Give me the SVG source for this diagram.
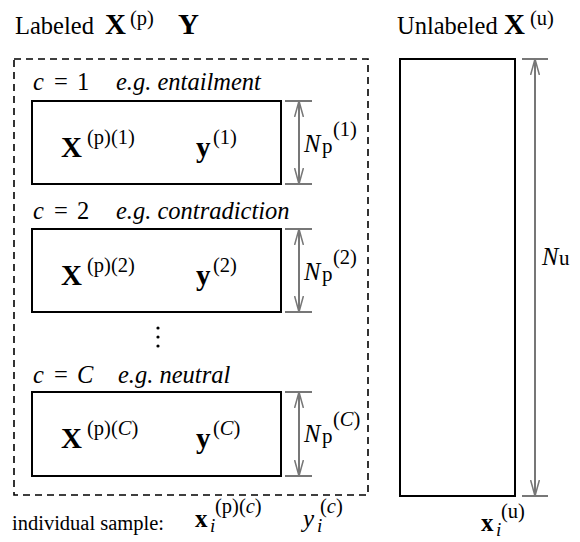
<svg xmlns="http://www.w3.org/2000/svg" width="580" height="542" viewBox="0 0 580 542" font-family="'Liberation Serif', 'Times New Roman', serif">
<defs>
<marker id="arr" viewBox="0 0 17 10" refX="16" refY="5" markerWidth="17" markerHeight="10" markerUnits="userSpaceOnUse" orient="auto-start-reverse">
<path d="M0,0.6 L16,5 L0,9.4" fill="none" stroke="#777" stroke-width="1.5"/>
</marker>
<style>
.t{font-size:24.5px}
.it{font-style:italic}
.b{font-weight:bold}
.mx{font-size:29px;font-weight:bold}
.sup{font-size:20.5px}
.box{fill:#fff;stroke:#000;stroke-width:2}
.dash{fill:none;stroke:#000;stroke-width:1.6;stroke-dasharray:7 5}
.tick{stroke:#777;stroke-width:2;fill:none}
.dim{stroke:#777;stroke-width:2;fill:none;marker-start:url(#arr);marker-end:url(#arr)}
</style>
</defs>
<rect width="580" height="542" fill="#fff"/>

<g id="titles">
<text class="t" x="15" y="34">Labeled</text>
<text class="mx" x="105" y="34">X</text>
<text class="sup" x="130" y="25">(p)</text>
<text class="mx" x="178" y="34">Y</text>
<text class="t" x="397" y="34">Unlabeled</text>
<text class="mx" x="504" y="34">X</text>
<text class="sup" x="530" y="25">(u)</text>
</g>

<g id="labeled-group">
<rect class="dash" x="14" y="59" width="354" height="436"/>
</g>

<g id="class1">
<text class="t it" x="33" y="90">c</text>
<text class="t" x="54" y="90">=</text>
<text class="t" x="77" y="90">1</text>
<text class="t it" x="116" y="90">e.g. entailment</text>
<rect class="box" x="32" y="101" width="249" height="83"/>
<text class="mx" x="61" y="157">X</text>
<text class="sup" x="87" y="144">(p)(1)</text>
<text class="mx" x="196" y="157">y</text>
<text class="sup" x="213" y="144">(1)</text>
</g>

<g id="class2">
<text class="t it" x="33" y="219">c</text>
<text class="t" x="54" y="219">=</text>
<text class="t" x="77" y="219">2</text>
<text class="t it" x="116" y="219">e.g. contradiction</text>
<rect class="box" x="32" y="229" width="249" height="83"/>
<text class="mx" x="61" y="285">X</text>
<text class="sup" x="87" y="272">(p)(2)</text>
<text class="mx" x="196" y="285">y</text>
<text class="sup" x="213" y="272">(2)</text>
</g>

<g id="ellipsis">
<circle cx="158" cy="328" r="1.6"/>
<circle cx="158" cy="337" r="1.6"/>
<circle cx="158" cy="346" r="1.6"/>
</g>

<g id="classC">
<text class="t it" x="33" y="383">c</text>
<text class="t" x="54" y="383">=</text>
<text class="t it" x="77" y="383">C</text>
<text class="t it" x="118" y="383">e.g. neutral</text>
<rect class="box" x="32" y="392" width="249" height="84"/>
<text class="mx" x="61" y="448">X</text>
<text class="sup" x="87" y="435">(p)(<tspan class="it">C</tspan>)</text>
<text class="mx" x="196" y="448">y</text>
<text class="sup" x="213" y="435">(<tspan class="it">C</tspan>)</text>
</g>

<g id="unlabeled">
<rect class="box" x="400" y="59" width="115" height="437"/>
</g>

<g id="connectors">
<line class="tick" x1="285" y1="101" x2="312" y2="101"/>
<line class="tick" x1="285" y1="184" x2="312" y2="184"/>
<line class="dim" x1="299" y1="101" x2="299" y2="184"/>
<line class="tick" x1="285" y1="229" x2="312" y2="229"/>
<line class="tick" x1="285" y1="312" x2="312" y2="312"/>
<line class="dim" x1="299" y1="229" x2="299" y2="312"/>
<line class="tick" x1="285" y1="392" x2="312" y2="392"/>
<line class="tick" x1="285" y1="476" x2="312" y2="476"/>
<line class="dim" x1="299" y1="392" x2="299" y2="476"/>
<line class="tick" x1="522" y1="59" x2="548" y2="59"/>
<line class="tick" x1="522" y1="496" x2="548" y2="496"/>
<line class="dim" x1="535" y1="59" x2="535" y2="496"/>
</g>

<g id="dim-labels">
<text class="t it" x="304" y="152">N</text><text x="322" y="153" font-size="21">p</text><text class="sup" x="333" y="136">(1)</text>
<text class="t it" x="304" y="280">N</text><text x="322" y="281" font-size="21">p</text><text class="sup" x="333" y="264">(2)</text>
<text class="t it" x="304" y="442">N</text><text x="322" y="443" font-size="21">p</text><text class="sup" x="333" y="426">(<tspan class="it">C</tspan>)</text>
<text class="t it" x="542" y="265">N</text><text x="559" y="265" font-size="21">u</text>
</g>

<g id="samples">
<text x="12" y="530" font-size="20.5">individual sample:</text>
<text class="b" x="195" y="527" font-size="25">x</text><text class="it" x="210" y="532" font-size="19">i</text><text class="sup" x="215" y="513">(p)(<tspan class="it">c</tspan>)</text>
<text class="it" x="303" y="527" font-size="25">y</text><text class="it" x="317" y="532" font-size="19">i</text><text class="sup" x="320" y="513">(<tspan class="it">c</tspan>)</text>
<text class="b" x="481" y="531" font-size="25">x</text><text class="it" x="496" y="536" font-size="19">i</text><text class="sup" x="501" y="518">(u)</text>
</g>
</svg>
